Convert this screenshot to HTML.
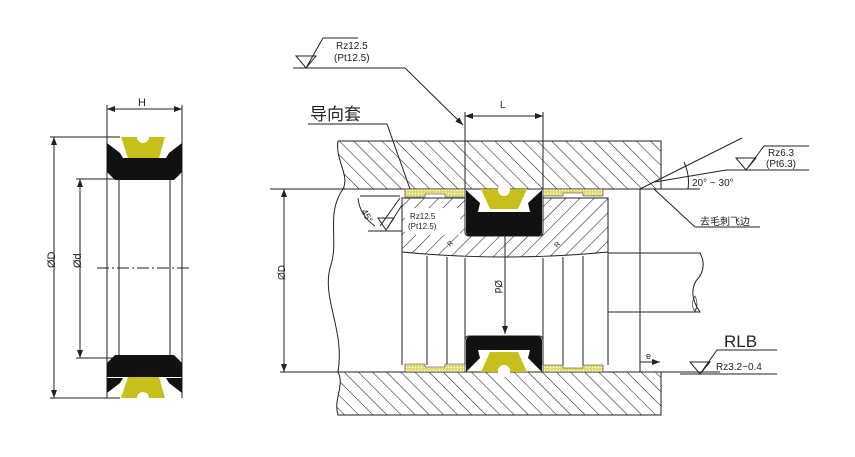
<!DOCTYPE html>
<html><head><meta charset="utf-8"><style>
body{margin:0;background:#fff;width:855px;height:457px;overflow:hidden}
svg{display:block}
text{font-family:"Liberation Sans","Noto Sans CJK SC",sans-serif;fill:#222}
</style></head><body>
<svg width="855" height="457" viewBox="0 0 855 457" xmlns="http://www.w3.org/2000/svg">
<defs>
<pattern id="h" patternUnits="userSpaceOnUse" width="10" height="10" patternTransform="rotate(45)">
<line x1="0" y1="0" x2="0" y2="10" stroke="#222" stroke-width="1.1"/></pattern>
<pattern id="h2" patternUnits="userSpaceOnUse" width="10" height="10" patternTransform="rotate(-45)">
<line x1="0" y1="0" x2="0" y2="10" stroke="#222" stroke-width="1.1"/></pattern>
<pattern id="x" patternUnits="userSpaceOnUse" width="3" height="3">
<rect width="3" height="3" fill="#e2d96a"/><circle cx="1.5" cy="1.5" r="0.7" fill="#fff"/></pattern>
<marker id="a" markerWidth="8" markerHeight="6" refX="8" refY="3" orient="auto"><path d="M0,0L8,3L0,6z" fill="#222"/></marker>
</defs>
<g stroke="#222" fill="none" stroke-width="1">
<!-- LEFT SEAL -->
<line x1="107" y1="105" x2="107" y2="398"/><line x1="182" y1="105" x2="182" y2="398"/>
<line x1="107" y1="109" x2="182" y2="109" marker-end="url(#a)"/><line x1="182" y1="109" x2="107" y2="109" marker-end="url(#a)"/>
<line x1="50" y1="137" x2="120" y2="137"/><line x1="50" y1="398" x2="120" y2="398"/>
<line x1="54" y1="137" x2="54" y2="398" marker-end="url(#a)"/><line x1="54" y1="398" x2="54" y2="137" marker-end="url(#a)"/>
<line x1="76" y1="179" x2="120" y2="179"/><line x1="76" y1="358" x2="120" y2="358"/>
<line x1="80" y1="179" x2="80" y2="358" marker-end="url(#a)"/><line x1="80" y1="358" x2="80" y2="179" marker-end="url(#a)"/>
<line x1="119" y1="180" x2="119" y2="358"/><line x1="170" y1="180" x2="170" y2="358"/>
<line x1="97" y1="268" x2="192" y2="268" stroke-dasharray="12,3,2,3"/>
</g>
<g stroke="none">
<path d="M121,137h44l-6,21h-31z" fill="#c8be1c"/><circle cx="143" cy="137" r="6" fill="#fff"/>
<path d="M107,158h75v14l-8,8h-59l-8,-8z" fill="#111"/>
<path d="M107,143l13,10l3,5h-16z M182,143l-13,10l-3,5h16z" fill="#111"/>
<path d="M121,398h44l-6,-21h-31z" fill="#c8be1c"/><circle cx="143" cy="398" r="6" fill="#fff"/>
<path d="M107,377h75v-14l-8,-8h-59l-8,8z" fill="#111"/>
<path d="M107,393l13,-10l3,-5h-16z M182,393l-13,-10l-3,-5h16z" fill="#111"/>
</g>
<text x="138" y="106" font-size="11" fill="#1a3a8a">H</text>
<text x="50" y="273" font-size="11" transform="rotate(-90 50 268)">ØD</text>
<text x="76" y="273" font-size="11" transform="rotate(-90 76 268)">Ød</text>

<!-- housing -->
<path d="M338,141H661V189H343C350,175 335,160 338,141z" fill="url(#h2)" stroke="#222" stroke-width="1"/>
<path d="M338,372H661V415H338C333,400 345,385 338,372z" fill="url(#h2)" stroke="#222" stroke-width="1"/>
<path d="M343,189C325,215 340,240 330,268C322,300 345,330 338,372" fill="none" stroke="#222" stroke-width="1"/>
<!-- piston hatched -->
<path d="M402,198H608V252Q505,262 402,252z" fill="url(#h)" stroke="#222" stroke-width="1"/>
<rect x="465" y="189" width="78" height="46" fill="#fff"/>
<rect x="405" y="208" width="55" height="27" fill="#fff"/>
<g stroke="#222" stroke-width="1" fill="none">
<line x1="465" y1="112" x2="465" y2="232"/><line x1="543" y1="112" x2="543" y2="232"/>
<line x1="465" y1="116" x2="543" y2="116" marker-end="url(#a)"/><line x1="543" y1="116" x2="465" y2="116" marker-end="url(#a)"/>
<path d="M465,232q0,4 4,4h70q4,0 4,-4"/>
<line x1="402" y1="252" x2="402" y2="365"/><line x1="608" y1="252" x2="608" y2="365"/>
<line x1="427" y1="256" x2="427" y2="365"/><line x1="447" y1="257" x2="447" y2="365"/>
<line x1="465" y1="258" x2="465" y2="365"/><line x1="543" y1="258" x2="543" y2="365"/>
<line x1="563" y1="257" x2="563" y2="365"/><line x1="583" y1="256" x2="583" y2="365"/>
<path d="M465,340q0,-4 4,-4h70q4,0 4,4"/>
<line x1="505" y1="236" x2="505" y2="334" marker-end="url(#a)"/>
<line x1="640" y1="189" x2="640" y2="372"/>
<line x1="270" y1="189" x2="700" y2="189"/><line x1="280" y1="372" x2="720" y2="372"/>
<line x1="284" y1="189" x2="284" y2="372" marker-end="url(#a)"/><line x1="284" y1="372" x2="284" y2="189" marker-end="url(#a)"/>
<path d="M608,253H700q8,15 -4,28q-8,14 4,31H608"/>
<line x1="640" y1="362" x2="660" y2="362" marker-end="url(#a)"/>
<path d="M296,56h20l-10,12z M306,68L323,38h35"/><line x1="293" y1="68" x2="405" y2="68"/>
<line x1="405" y1="68" x2="463" y2="125" marker-end="url(#a)"/>
<line x1="308" y1="124" x2="387" y2="124"/><line x1="387" y1="124" x2="410" y2="189"/>
<path d="M736,158h20l-10,12z M746,170L764,146h45"/><line x1="726" y1="170" x2="809" y2="170"/>
<line x1="640" y1="189" x2="742" y2="138"/><line x1="655" y1="182" x2="726" y2="170"/>
<path d="M684,162q6,13 4,27"/>
<line x1="654" y1="189" x2="695" y2="227"/><line x1="695" y1="227" x2="760" y2="227"/>
<path d="M690,362h20l-10,12z M700,374L717,350h60"/><line x1="680" y1="374" x2="777" y2="374"/>
<path d="M358,198q2,18 17,28"/><line x1="360" y1="196" x2="400" y2="196"/>
<path d="M378,218h16l-8,12z M386,230L402,205"/><line x1="368" y1="231" x2="402" y2="231"/>
<line x1="400" y1="198" x2="380" y2="226"/>
</g>
<path d="M695,296q4,8 0,16q-5,-8 0,-16z" fill="url(#h)" stroke="#222" stroke-width="0.6"/>
<g fill="url(#x)" stroke="#333" stroke-width="0.6">
<path d="M405,189h60v8h-20v-3h-20v3h-20z"/><path d="M543,189h60v7h-20v-3h-20v3h-20z"/>
<path d="M405,372h60v-8h-20v3h-20v-3h-20z"/><path d="M543,372h60v-7h-20v3h-20v-3h-20z"/>
</g>
<g stroke="none">
<path d="M481,189h46l-9,20h-28z" fill="#c8be1c"/><circle cx="504" cy="190" r="6" fill="#fff"/>
<path d="M466,212h76v20q0,4 -4,4h-68q-4,0 -4,-4z" fill="#111"/>
<path d="M466,190l14,13l-2,9h-12z M542,190l-14,13l2,9h12z" fill="#111"/>
<path d="M481,372h46l-9,-20h-28z" fill="#c8be1c"/><circle cx="504" cy="371" r="6" fill="#fff"/>
<path d="M466,350h76v-9q0,-5 -5,-5h-66q-5,0 -5,5z" fill="#111"/>
<path d="M466,372l14,-14l-2,-8h-12z M542,372l-14,-14l2,-8h12z" fill="#111"/>
</g>
<g font-size="10">
<text x="336" y="49">Rz12.5</text><text x="334" y="61">(Pt12.5)</text>
<text x="500" y="108">L</text>
<text x="310" y="120" font-size="17">导向套</text>
<text x="410" y="219" font-size="8">Rz12.5</text><text x="408" y="229" font-size="8" fill="#1a3a8a">(Pt12.5)</text>
<text x="363" y="216" font-size="9" transform="rotate(60 366 212)">45°</text>
<text x="768" y="156">Rz6.3</text><text x="766" y="167">(Pt6.3)</text>
<text x="692" y="186">20° ~ 30°</text>
<text x="700" y="225">去毛刺飞边</text>
<text x="724" y="347" font-size="17">RLB</text>
<text x="716" y="370">Rz3.2~0.4</text>
<text x="646" y="359" font-size="9">e</text>
<text x="280" y="285" transform="rotate(-90 280 280)">ØD</text>
<text x="500" y="285" transform="rotate(90 500 280)">Ød</text>
<text x="448" y="246" font-size="7" fill="#1a3a8a" transform="rotate(-45 450 244)">R</text>
<text x="555" y="247" font-size="7" fill="#1a3a8a" transform="rotate(-45 557 245)">R</text>
</g>
</svg>
</body></html>
